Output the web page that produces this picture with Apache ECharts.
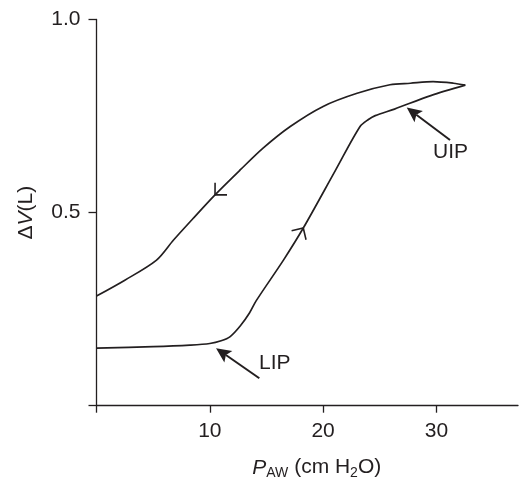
<!DOCTYPE html>
<html><head><meta charset="utf-8">
<script src="https://cdn.jsdelivr.net/npm/echarts@6/dist/echarts.min.js"></script>
<style>html,body{margin:0;padding:0;background:#fff}#c{width:519px;height:479px}</style>
</head><body><div id="c"></div>
<script>
// Inflation limb (lower curve), P_AW (cm H2O) vs ΔV (L)
const inflationP = [0, 5, 8.25, 10.0, 11.0, 11.8, 12.7, 13.5, 14.1, 16.5, 18.25, 21.1, 23.26, 24.0, 24.6, 26.3, 29.5, 32.55];
const inflationV = [0.149, 0.153, 0.157, 0.161, 0.168, 0.179, 0.207, 0.24, 0.272, 0.377, 0.46, 0.61, 0.723, 0.741, 0.751, 0.768, 0.803, 0.830];
// Deflation limb (upper curve), from the top back to zero pressure
const deflationP = [32.55, 31.5, 29.7, 27.7, 25.9, 23.0, 20.0, 17.1, 14.7, 12.7, 10.46, 8.5, 6.8, 5.3, 2.5, 0];
const deflationV = [0.830, 0.835, 0.839, 0.835, 0.831, 0.809, 0.775, 0.723, 0.667, 0.611, 0.546, 0.484, 0.429, 0.377, 0.325, 0.284];
// Axis ticks and labels
const xTickValues = [0, 10, 20, 30];
const xTickLabels = [10, 20, 30];
const yTickValues = [0, 0.5, 1.0];
const yTickLabels = [0.5, 1.0];
// Direction arrows on the loop: [P, V, P behind, V behind]
const flowArrows = [[10.46, 0.546, 12.7, 0.611], [18.25, 0.46, 16.5, 0.377]];
// Inflection point pointers: [tail P, tail V, tip P, tip V]
const pointerArrows = [[14.37, 0.071, 10.55, 0.149], [31.2, 0.688, 27.38, 0.772]];
const pointerLabelPos = [[15.73, 0.11], [31.25, 0.656]];
const pointerLabelText = ['LIP', 'UIP'];

const INK = '#231f20';
const FONT = '"Liberation Sans", Arial, Helvetica, sans-serif';

function zip(a, b) { return a.map((v, i) => [v, b[i]]); }

const chart = echarts.init(document.getElementById('c'), null, { renderer: 'canvas' });

chart.setOption({
  animation: false,
  backgroundColor: '#fff',
  grid: { left: 96.5, right: 1, top: 19.5, bottom: 73.3, containLabel: false, outerBoundsMode: 'none' },
  xAxis: {
    type: 'value', min: 0, max: 37.2, interval: 10,
    axisLine: { show: true, onZero: false, lineStyle: { color: INK, width: 1.3 } },
    axisTick: { show: true, length: 7, customValues: xTickValues, lineStyle: { color: INK, width: 1.3 } },
    axisLabel: { customValues: xTickLabels, margin: 15, color: INK, fontSize: 21, fontFamily: FONT },
    splitLine: { show: false },
    name: '{i|P}{s|AW}{n| (cm H}{s|2}{n|O)}',
    nameLocation: 'middle', nameGap: 50,
    nameTextStyle: {
      padding: [0, 0, 0, 19],
      rich: {
        i: { fontSize: 21, fontStyle: 'italic', fontFamily: FONT, color: INK, lineHeight: 24 },
        n: { fontSize: 21, fontFamily: FONT, color: INK, lineHeight: 24 },
        s: { fontSize: 14, fontFamily: FONT, color: INK, lineHeight: 14, verticalAlign: 'bottom' }
      }
    }
  },
  yAxis: {
    type: 'value', min: 0, max: 1.0, interval: 0.5,
    axisLine: { show: true, onZero: false, lineStyle: { color: INK, width: 1.3 } },
    axisTick: { show: true, length: 8, customValues: yTickValues, lineStyle: { color: INK, width: 1.3 } },
    axisLabel: { customValues: yTickLabels, margin: 16, color: INK, fontSize: 21, fontFamily: FONT,
      formatter: v => Number(v).toFixed(1) },
    splitLine: { show: false },
    name: '{n|Δ}{i|V}{n|(L)}',
    nameLocation: 'middle', nameGap: 60, nameRotate: 90,
    nameTextStyle: {
      rich: {
        i: { fontSize: 21, fontStyle: 'italic', fontFamily: FONT, color: INK },
        n: { fontSize: 21, fontFamily: FONT, color: INK }
      }
    }
  },
  series: [
    {
      type: 'line', name: 'inflation', data: zip(inflationP, inflationV),
      symbol: 'none', smooth: 0.3,
      lineStyle: { color: INK, width: 1.7 }
    },
    {
      type: 'line', name: 'deflation', data: zip(deflationP, deflationV),
      symbol: 'none', smooth: 0.3,
      lineStyle: { color: INK, width: 1.7 }
    },
    {
      type: 'custom', name: 'flow', data: flowArrows,
      renderItem: function (params, api) {
        const p = api.coord([api.value(0), api.value(1)]);
        const q = api.coord([api.value(2), api.value(3)]);
        const ang = Math.atan2(q[1] - p[1], q[0] - p[0]);
        const L = 12, a = Math.PI / 4;
        const p1 = [p[0] + L * Math.cos(ang - a), p[1] + L * Math.sin(ang - a)];
        const p2 = [p[0] + L * Math.cos(ang + a), p[1] + L * Math.sin(ang + a)];
        return { type: 'polyline', shape: { points: [p1, p, p2] },
          style: { stroke: INK, lineWidth: 1.6, fill: null } };
      }
    },
    {
      type: 'custom', name: 'pointers', data: pointerArrows,
      renderItem: function (params, api) {
        const t = api.coord([api.value(0), api.value(1)]);
        const p = api.coord([api.value(2), api.value(3)]);
        const dx = p[0] - t[0], dy = p[1] - t[1];
        const len = Math.hypot(dx, dy);
        const ux = dx / len, uy = dy / len, nx = -uy, ny = ux;
        const H = 15, W = 7;
        const bx = p[0] - ux * H, by = p[1] - uy * H;
        const notch = [p[0] - ux * H * 0.8, p[1] - uy * H * 0.8];
        return {
          type: 'group',
          children: [
            { type: 'line', shape: { x1: t[0], y1: t[1], x2: notch[0], y2: notch[1] },
              style: { stroke: INK, lineWidth: 2 } },
            { type: 'polygon', shape: { points: [p, [bx + nx * W, by + ny * W], notch, [bx - nx * W, by - ny * W]] },
              style: { fill: INK } }
          ]
        };
      }
    },
    {
      type: 'custom', name: 'pointerLabels', data: pointerLabelPos,
      renderItem: function (params, api) {
        const c = api.coord([api.value(0), api.value(1)]);
        return { type: 'text', x: c[0], y: c[1],
          style: { text: pointerLabelText[params.dataIndex], fill: INK, font: '21px ' + FONT,
            textAlign: 'center', textVerticalAlign: 'middle' } };
      }
    }
  ]
});
</script></body></html>
